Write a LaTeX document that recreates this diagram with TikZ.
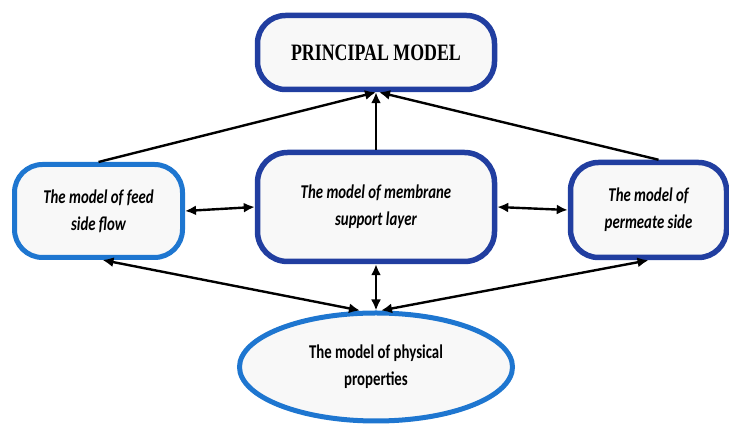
\documentclass[tikz,border=0pt]{standalone}
\usepackage{fontspec}
\usepackage{xcolor}
\usetikzlibrary{shapes.geometric,arrows.meta,positioning}

\newfontfamily\boxfont[FakeStretch=0.76]{Carlito}
\newfontfamily\titlefont[FakeStretch=0.76]{Liberation Serif}

\definecolor{darkblue}{RGB}{33,62,160}
\definecolor{lightblue}{RGB}{30,118,208}
\definecolor{boxfill}{RGB}{248,248,248}

\tikzset{
    modelbox/.style={draw=darkblue, line width=5.5pt, fill=boxfill, rounded corners=28pt, align=center,
        font=\boxfont\bfseries\itshape\fontsize{19.5}{27}\selectfont},
    lightbox/.style={modelbox, draw=lightblue, line width=5pt},
    link/.style={line width=2.4pt, -{Latex[length=11pt,width=10pt]}},
    twolink/.style={line width=2.4pt, {Latex[length=11pt,width=10pt]}-{Latex[length=11pt,width=10pt]}}
}

\begin{document}
\begin{tikzpicture}[x=1pt,y=1pt]
    \useasboundingbox (0,0) rectangle (729,425);

    % nodes
    \node[modelbox, minimum width=237pt, minimum height=74pt,
        font=\titlefont\bfseries\fontsize{23.5}{27}\selectfont] (principal) at (376,372.5) {PRINCIPAL MODEL};
    \node[modelbox, minimum width=237pt, minimum height=109pt, rounded corners=30pt] (membrane) at (376,218)
        {The model of membrane\\support layer};
    \node[lightbox, minimum width=168pt, minimum height=93pt] (feed) at (98.5,214)
        {The model of feed\\side flow};
    \node[modelbox, minimum width=156pt, minimum height=95pt] (permeate) at (648.5,215)
        {The model of\\permeate side};
    \node[ellipse, draw=lightblue, line width=5pt, fill=boxfill, minimum width=273pt, minimum height=108pt,
        align=center, font=\boxfont\bfseries\fontsize{19.5}{27}\selectfont] (props) at (376,58)
        {The model of physical\\properties};

    % connectors
    \draw[link] (feed.north) -- (principal.south);
    \draw[link] (membrane.north) -- (principal.south);
    \draw[link] ([xshift=10pt]permeate.north) -- ([xshift=3pt]principal.south);
    \draw[twolink] (feed.east) -- (membrane.west);
    \draw[twolink] (membrane.east) -- (permeate.west);
    \draw[twolink] ([xshift=4pt]feed.south) -- ([xshift=-16pt]props.north);
    \draw[twolink] (membrane.south) -- (props.north);
    \draw[twolink] (permeate.south) -- ([xshift=5pt]props.north);
\end{tikzpicture}
\end{document}
